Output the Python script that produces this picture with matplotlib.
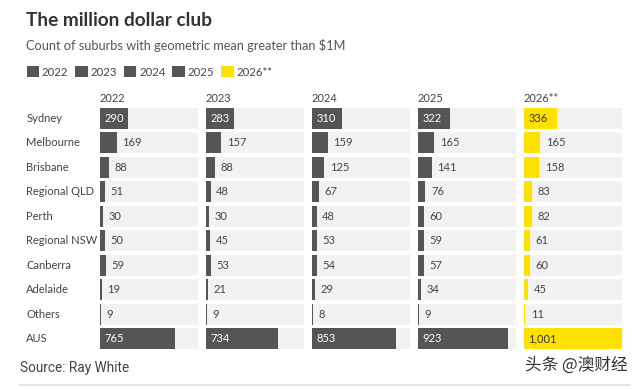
import matplotlib
matplotlib.use("Agg")
import matplotlib.pyplot as plt
from matplotlib.patches import Patch

# ----------------------------------------------------
# Data
# ----------------------------------------------------
regions = ["Sydney", "Melbourne", "Brisbane", "Regional QLD", "Perth",
           "Regional NSW", "Canberra", "Adelaide", "Others", "AUS"]
years = ["2022", "2023", "2024", "2025", "2026**"]

v2022 = [290, 169, 88, 51, 30, 50, 59, 19, 9, 765]
v2023 = [283, 157, 88, 48, 30, 45, 53, 21, 9, 734]
v2024 = [310, 159, 125, 67, 48, 53, 54, 29, 8, 853]
v2025 = [322, 165, 141, 76, 60, 59, 57, 34, 9, 923]
v2026 = [336, 165, 158, 83, 82, 61, 60, 45, 11, 1001]
series = [v2022, v2023, v2024, v2025, v2026]

DARK = "#555555"
YELLOW = "#FFE100"
BAND = "#F2F2F2"
colors = [DARK, DARK, DARK, DARK, YELLOW]
XMAX = 1001

plt.rcParams["font.family"] = ["Lato", "Noto Sans CJK SC", "DejaVu Sans"]

W, H = 640, 389
fig = plt.figure(figsize=(6.4, 3.89), dpi=100)
fig.patch.set_facecolor("white")

# ----------------------------------------------------
# Title block
# ----------------------------------------------------
fig.text(26 / W, 1 - 21 / H, "The million dollar club", fontsize=13.7,
         fontweight="bold", color="#333333", va="center", ha="left")
fig.text(26 / W, 1 - 45 / H, "Count of suburbs with geometric mean greater than $1M",
         fontsize=9.2, color="#555555", va="center", ha="left")

handles = [Patch(facecolor=c, edgecolor="none") for c in colors]
fig.legend(handles, years, loc="center left", bbox_to_anchor=(22 / W, 1 - 72 / H),
           ncol=5, frameon=False, fontsize=8.2, handlelength=1.1, handleheight=1.1,
           handletextpad=0.25, columnspacing=0.6, borderaxespad=0, labelcolor="#444444")

# ----------------------------------------------------
# Small multiple panels
# ----------------------------------------------------
lefts = [100, 206, 312, 418, 524]
pw = 98
top, bottom = 106, 351
ypos = list(range(len(regions)))

for i, (yr, vals, col) in enumerate(zip(years, series, colors)):
    ax = fig.add_axes([lefts[i] / W, 1 - bottom / H, pw / W, (bottom - top) / H])
    ax.barh(ypos, [XMAX] * len(regions), height=0.86, color=BAND, zorder=1)
    ax.barh(ypos, vals, height=0.86, color=col, zorder=2)
    ax.set_xlim(0, XMAX)
    ax.set_ylim(len(regions) - 0.5, -0.5)
    for s in ax.spines.values():
        s.set_visible(False)
    ax.set_xticks([])
    ax.set_yticks([])
    ax.set_title(yr, loc="left", fontsize=8, color="#444444", pad=3)

    for y, v in zip(ypos, vals):
        txt = f"{v:,}"
        if v > 250:
            tc = "white" if col == DARK else "#333333"
            ax.annotate(txt, (0, y), xytext=(3, 0), textcoords="offset points",
                        va="center", ha="left", fontsize=8, color=tc, zorder=3)
        else:
            ax.annotate(txt, (v, y), xytext=(4, 0), textcoords="offset points",
                        va="center", ha="left", fontsize=8, color="#444444", zorder=3)

    if i == 0:
        for y, r in zip(ypos, regions):
            ax.annotate(r, (0, y), xytext=(-53, 0), textcoords="offset points",
                        va="center", ha="left", fontsize=8, color="#444444",
                        annotation_clip=False)

# ----------------------------------------------------
# Footer
# ----------------------------------------------------
fig.text(20 / W, 1 - 368 / H, "Source: Ray White", fontsize=9.8, color="#444444",
         va="center", ha="left", family=["Roboto", "DejaVu Sans"])
fig.text(628 / W, 1 - 365 / H, "头条 @澳财经", fontsize=12, color="#333333",
         va="center", ha="right", family=["Noto Sans CJK SC", "DejaVu Sans"])
fig.add_artist(plt.Line2D([20 / W, 630 / W], [1 - 385 / H, 1 - 385 / H],
                          color="#E0E0E0", lw=1.2))

fig.savefig("out.png", dpi=100, facecolor="white")
